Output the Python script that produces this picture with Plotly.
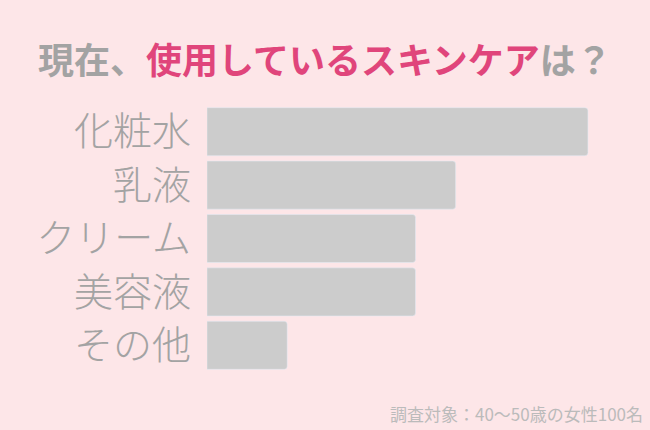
import plotly.graph_objects as go

# 現在、使用しているスキンケアは？ (調査対象：40〜50歳の女性100名)
categories = ["化粧水", "乳液", "クリーム", "美容液", "その他"]
values = [95, 62, 52, 52, 20]

BG = "#fde6e8"
GRAY = "#a3a3a3"
PINK = "#e0457b"
FONT = "Noto Sans CJK JP"

L, R, T, B = 207, 42, 105, 58
W, H = 650, 430
plot_w = W - L - R

fig = go.Figure()

fig.add_trace(go.Bar(
    x=values,
    y=categories,
    orientation="h",
    marker=dict(color="#cccccc", cornerradius=3),
    hoverinfo="x+y",
))

title = (
    f"<span style='color:{GRAY}'>現在、</span>"
    f"<span style='color:{PINK}'>使用しているスキンケア</span>"
    f"<span style='color:{GRAY}'>は？</span>"
)

# タイトルはページ中央に置く
fig.add_annotation(
    text=title, xref="paper", yref="paper", x=(W / 2 - L) / plot_w, y=1.0,
    xanchor="center", yanchor="middle", yshift=47, showarrow=False,
    font=dict(family=FONT, size=36, weight=700),
)
fig.add_annotation(
    text="調査対象：40〜50歳の女性100名", xref="paper", yref="paper",
    x=1.0, y=0, xanchor="right", yanchor="middle", xshift=37, yshift=-41,
    showarrow=False, font=dict(family=FONT, size=17, color="#bbbbbb"),
)

fig.update_layout(
    width=W,
    height=H,
    paper_bgcolor=BG,
    plot_bgcolor=BG,
    margin=dict(l=L, r=R, t=T, b=B),
    bargap=0.1,
    showlegend=False,
    xaxis=dict(range=[0, 100], visible=False, fixedrange=True),
    yaxis=dict(
        autorange="reversed",
        showgrid=False, zeroline=False, showline=False,
        ticks="", ticklabelstandoff=15,
        tickfont=dict(family=FONT, size=39, color=GRAY, weight=300),
        fixedrange=True,
    ),
)

fig.write_html(
    "out.html",
    config={"displayModeBar": False},
    post_script="document.body.style.margin='0';document.body.style.background='%s';" % BG,
)
